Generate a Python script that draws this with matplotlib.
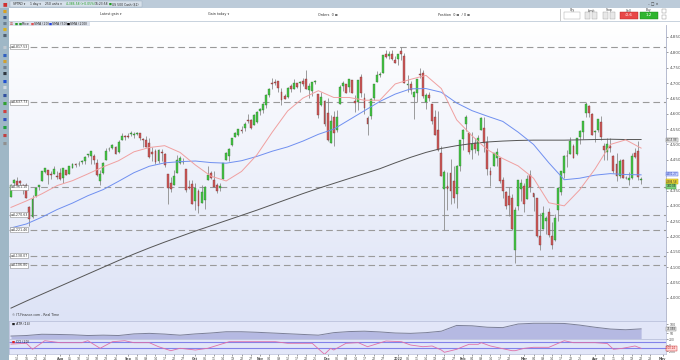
import numpy as np
import pandas as pd
import matplotlib.pyplot as plt
from matplotlib.patches import Rectangle

# ====================================
# DATA (US 500 Cash, daily)
# ====================================
dates = pd.bdate_range('2021-07-09', '2022-04-22')

opens = [
    4330, 4373, 4381, 4380, 4369, 4368, 4296, 4265, 4332, 4361, 4381, 4410, 4416, 4403, 4404, 4396,
    4407, 4392, 4416, 4404, 4424, 4437, 4436, 4442, 4446, 4464, 4462, 4462, 4440, 4382, 4406, 4450, 4484, 4490, 4493, 4474, 4514, 4529,
    4528, 4534, 4532, 4535, 4536, 4518, 4514, 4506, 4474, 4479, 4447, 4477, 4470, 4403, 4374, 4367, 4406, 4438, 4442, 4419, 4362, 4371,
    4317, 4348, 4310, 4320, 4384, 4406, 4385, 4368, 4358, 4387, 4448, 4463, 4497, 4524, 4532, 4547, 4553, 4578, 4580, 4562, 4573,
    4610, 4613, 4630, 4662, 4699, 4702, 4707, 4670, 4659, 4655, 4689, 4679, 4701, 4700, 4708, 4712, 4678, 4675, 4702, 4664, 4628, 4640,
    4602, 4504, 4589, 4548, 4632, 4691, 4696, 4687, 4710, 4642, 4637, 4719, 4652, 4587, 4594, 4650, 4703, 4725, 4733, 4795, 4788, 4794, 4776,
    4778, 4804, 4788, 4693, 4698, 4655, 4669, 4729, 4734, 4638, 4662, 4632, 4588, 4547, 4471, 4356, 4366, 4408, 4380, 4337, 4431,
    4519, 4566, 4536, 4482, 4505, 4480, 4548, 4553, 4507, 4413, 4429, 4455, 4456, 4385, 4345, 4332, 4324, 4155, 4299, 4354,
    4364, 4322, 4401, 4342, 4327, 4203, 4223, 4252, 4280, 4202, 4188, 4288, 4345, 4407, 4462, 4470, 4494, 4470, 4523, 4541, 4603, 4624, 4600,
    4540, 4547, 4572, 4494, 4475, 4494, 4462, 4437, 4397, 4449, 4392, 4385, 4390, 4472, 4479, 4385,
]
highs = [
    4372, 4386, 4393, 4383, 4370, 4376, 4301, 4336, 4359, 4369, 4415, 4422, 4416, 4415, 4430, 4412,
    4422, 4423, 4416, 4429, 4440, 4440, 4445, 4449, 4461, 4468, 4480, 4468, 4454, 4418, 4443, 4489, 4493, 4501, 4495, 4513, 4537, 4531,
    4537, 4545, 4541, 4540, 4536, 4521, 4529, 4520, 4492, 4485, 4486, 4486, 4471, 4403, 4394, 4417, 4465, 4463, 4457, 4419, 4385, 4383,
    4375, 4355, 4369, 4365, 4430, 4412, 4415, 4375, 4373, 4439, 4475, 4488, 4520, 4540, 4551, 4559, 4572, 4598, 4584, 4598, 4608,
    4620, 4636, 4664, 4684, 4718, 4714, 4708, 4685, 4664, 4688, 4697, 4714, 4701, 4708, 4717, 4744, 4699, 4702, 4710, 4664, 4672, 4646,
    4652, 4595, 4608, 4612, 4694, 4705, 4698, 4713, 4710, 4660, 4709, 4731, 4666, 4592, 4651, 4697, 4740, 4736, 4791, 4807, 4804, 4808, 4787,
    4796, 4818, 4797, 4725, 4708, 4673, 4714, 4749, 4744, 4666, 4670, 4632, 4612, 4610, 4495, 4418, 4411, 4453, 4429, 4432, 4516,
    4550, 4595, 4542, 4540, 4521, 4531, 4590, 4588, 4527, 4427, 4473, 4490, 4456, 4395, 4350, 4362, 4339, 4295, 4385, 4388,
    4375, 4401, 4417, 4342, 4327, 4276, 4299, 4268, 4292, 4247, 4272, 4358, 4412, 4465, 4482, 4523, 4501, 4521, 4546, 4576, 4637, 4628, 4603,
    4547, 4583, 4593, 4504, 4521, 4520, 4464, 4471, 4453, 4453, 4396, 4410, 4471, 4489, 4512, 4394,
]
lows = [
    4329, 4365, 4368, 4362, 4340, 4325, 4233, 4262, 4329, 4351, 4381, 4406, 4372, 4387, 4404, 4387,
    4385, 4374, 4400, 4403, 4422, 4425, 4430, 4436, 4437, 4460, 4437, 4436, 4398, 4368, 4405, 4450, 4479, 4486, 4468, 4473, 4514, 4513,
    4522, 4526, 4522, 4530, 4513, 4493, 4493, 4457, 4445, 4436, 4439, 4447, 4427, 4306, 4345, 4367, 4406, 4436, 4437, 4346, 4355, 4307,
    4288, 4278, 4310, 4290, 4384, 4386, 4360, 4342, 4348, 4387, 4448, 4447, 4496, 4524, 4526, 4538, 4545, 4570, 4551, 4562, 4570,
    4595, 4604, 4620, 4655, 4681, 4694, 4670, 4630, 4648, 4651, 4672, 4679, 4684, 4672, 4690, 4682, 4652, 4659, 4698, 4586, 4625, 4560,
    4510, 4504, 4495, 4540, 4632, 4674, 4668, 4670, 4667, 4606, 4611, 4654, 4600, 4531, 4583, 4645, 4703, 4720, 4733, 4780, 4778, 4775, 4765,
    4758, 4774, 4699, 4671, 4663, 4582, 4638, 4718, 4650, 4614, 4640, 4568, 4530, 4480, 4396, 4222, 4287, 4305, 4309, 4292, 4415,
    4483, 4544, 4470, 4451, 4471, 4465, 4548, 4477, 4402, 4365, 4429, 4429, 4374, 4327, 4290, 4267, 4221, 4114, 4287, 4315,
    4280, 4322, 4345, 4284, 4199, 4157, 4223, 4209, 4200, 4161, 4187, 4251, 4335, 4390, 4425, 4470, 4455, 4465, 4501, 4518, 4589, 4589, 4530,
    4507, 4539, 4514, 4450, 4450, 4474, 4408, 4381, 4392, 4392, 4386, 4367, 4388, 4455, 4385, 4372,
]
closes = [
    4369, 4384, 4369, 4374, 4360, 4327, 4258, 4323, 4359, 4368, 4412, 4422, 4401, 4400, 4419, 4395,
    4387, 4423, 4402, 4429, 4436, 4432, 4436, 4447, 4460, 4468, 4479, 4448, 4400, 4405, 4441, 4479, 4486, 4497, 4470, 4509, 4529, 4523,
    4524, 4537, 4535, 4537, 4520, 4514, 4493, 4459, 4468, 4443, 4481, 4473, 4433, 4358, 4354, 4396, 4449, 4455, 4443, 4352, 4359, 4307,
    4357, 4300, 4345, 4363, 4399, 4391, 4361, 4350, 4364, 4438, 4471, 4486, 4520, 4537, 4549, 4544, 4567, 4575, 4552, 4596, 4605,
    4614, 4631, 4660, 4680, 4697, 4701, 4685, 4646, 4649, 4683, 4682, 4700, 4688, 4704, 4697, 4682, 4691, 4702, 4705, 4595, 4655, 4567,
    4513, 4577, 4538, 4591, 4686, 4701, 4668, 4712, 4669, 4634, 4710, 4668, 4620, 4568, 4649, 4697, 4725, 4730, 4791, 4786, 4793, 4778, 4766,
    4796, 4793, 4700, 4696, 4677, 4670, 4713, 4726, 4659, 4662, 4650, 4577, 4532, 4482, 4398, 4410, 4356, 4349, 4326, 4431, 4515,
    4546, 4589, 4477, 4500, 4484, 4521, 4587, 4504, 4419, 4401, 4471, 4475, 4380, 4348, 4300, 4304, 4225, 4288, 4385, 4374,
    4306, 4387, 4363, 4329, 4201, 4171, 4278, 4260, 4204, 4173, 4262, 4358, 4412, 4463, 4461, 4511, 4456, 4520, 4543, 4575, 4632, 4602, 4530,
    4545, 4582, 4525, 4481, 4500, 4488, 4412, 4397, 4446, 4392, 4390, 4391, 4462, 4459, 4393, 4386,
]

# moving averages read weekly (Fridays)
ma_dates = pd.date_range('2021-07-09', '2022-04-22', freq='W-FRI')
sma20 = [4295, 4316, 4339, 4366, 4382, 4404, 4427, 4447, 4476, 4490, 4496, 4474, 4433, 4397,
         4381, 4412, 4466, 4540, 4609, 4651, 4675, 4653, 4653, 4644, 4644, 4697, 4712, 4725,
         4682, 4580, 4528, 4483, 4454, 4430, 4390, 4310, 4300, 4352, 4420, 4500, 4515, 4488]
sma50 = [4228, 4241, 4263, 4288, 4309, 4333, 4353, 4380, 4408, 4429, 4440, 4444, 4446, 4441,
         4439, 4447, 4461, 4478, 4492, 4511, 4533, 4550, 4580, 4610, 4640, 4664, 4681, 4682,
         4670, 4635, 4610, 4592, 4575, 4540, 4500, 4440, 4385, 4390, 4400, 4405, 4402, 4401]
sma200 = [3967, 3990, 4012, 4034, 4056, 4078, 4100, 4122, 4143, 4163, 4182, 4200, 4218, 4235,
          4252, 4269, 4286, 4304, 4322, 4340, 4357, 4373, 4389, 4405, 4421, 4440, 4458, 4474,
          4487, 4496, 4503, 4508, 4511, 4513, 4514, 4514, 4514, 4515, 4516, 4517, 4516, 4516]
atr14 = [33, 36, 43, 42, 40, 36, 38, 36, 45, 48, 44, 38, 45, 50, 57, 57, 54, 50, 46, 42, 38,
         52, 58, 60, 56, 50, 48, 52, 60, 92, 90, 82, 80, 100, 104, 104, 103, 94, 82, 72, 68, 73]

cci_dates = ['2021-07-09', '2021-07-16', '2021-07-20', '2021-07-26', '2021-08-02', '2021-08-11',
             '2021-08-13', '2021-08-19', '2021-08-25', '2021-08-31', '2021-09-03', '2021-09-10',
             '2021-09-15', '2021-09-21', '2021-09-24', '2021-10-01', '2021-10-07', '2021-10-18',
             '2021-10-25', '2021-11-08', '2021-11-12', '2021-11-24', '2021-11-30', '2021-12-02',
             '2021-12-03', '2021-12-06', '2021-12-09', '2021-12-15', '2021-12-20', '2021-12-28',
             '2022-01-04', '2022-01-07', '2022-01-13', '2022-01-18', '2022-01-21', '2022-01-24',
             '2022-01-28', '2022-02-01', '2022-02-03', '2022-02-08', '2022-02-09', '2022-02-14',
             '2022-02-23', '2022-02-24', '2022-03-01', '2022-03-04', '2022-03-11', '2022-03-18',
             '2022-03-23', '2022-04-01', '2022-04-07', '2022-04-11', '2022-04-14', '2022-04-20',
             '2022-04-22']
cci20 = [40, 67, -133, 153, 87, 87, 153, -100, 120, 153, 87, 87, -47, -180, -100, -157, -100,
         120, 120, 120, 67, 67, -300, -100, -157, -100, 67, 87, -47, 143, 120, 10, -47, -23,
         -157, -233, -133, -47, 33, 33, 87, -23, -180, -180, -100, -67, -67, 153, 87, 87, 60,
         -133, -100, -23, -100]

levels = [4817.53, 4637.73, 4361.10, 4270.63, 4221.46, 4138.07, 4106.80]
price_ticks = list(range(4000, 4851, 50))
last_price = 4386.58

# ====================================
# FIGURE
# ====================================
W, H = 680, 360
fig = plt.figure(figsize=(W / 100, H / 100), dpi=100)
fig.patch.set_facecolor('white')

def px_axes(x0, y0, x1, y1, **kw):
    return fig.add_axes([x0 / W, 1 - y1 / H, (x1 - x0) / W, (y1 - y0) / H], **kw)

FS = 3.0
TS = 2.3
idx = np.arange(len(dates))
ma_x = dates.get_indexer(ma_dates)
cci_x = dates.get_indexer(pd.to_datetime(cci_dates))
xlim = (-0.65, 213.1)

o, h, l, c = map(np.array, (opens, highs, lows, closes))

# ---- price panel ----
ax = px_axes(9, 25, 666, 321)
ax.set_xlim(*xlim)
ax.set_ylim(3925, 4889)
grad = np.linspace(0, 1, 256).reshape(-1, 1)
ax.imshow(grad, extent=[*xlim, 3925, 4889], aspect='auto', origin='upper',
          cmap=plt.matplotlib.colors.LinearSegmentedColormap.from_list('bg', ['#ffffff', '#dde3f6']),
          zorder=0)

for v in levels:
    ax.axhline(v, color='#9a9a9a', lw=0.8, ls=(0, (6, 3.5)), zorder=1)

up = c >= o
ax.vlines(idx, l, h, color='#8c8c8c', lw=0.6, zorder=2)
ax.bar(idx[up], (c - o)[up], bottom=o[up], width=0.62, color='#44c544',
       edgecolor='#2f6f2f', lw=0.25, zorder=3)
ax.bar(idx[~up], (c - o)[~up], bottom=o[~up], width=0.62, color='#cf5a5a',
       edgecolor='#6f2f2f', lw=0.25, zorder=3)

ax.plot(ma_x, sma200, color='#555555', lw=0.7, zorder=4)
ax.plot(ma_x, sma50, color='#6f8ff0', lw=0.7, zorder=4)
ax.plot(ma_x, sma20, color='#f0a0a0', lw=0.7, zorder=4)

ax.yaxis.tick_right()
ax.set_yticks(price_ticks)
# the 4,400 label sits under the SMA(50) value tag, as on the platform
ax.set_yticklabels(['' if v == 4400 else f'{v:,}' for v in price_ticks], fontsize=FS,
                   color='#444444')
ax.tick_params(axis='y', length=1.5, width=0.4, pad=1, colors='#555555')
ax.set_xticks([])
for s in ['top', 'left', 'bottom']:
    ax.spines[s].set_visible(False)
ax.spines['right'].set_color('#aab0c8')
ax.spines['right'].set_linewidth(0.6)

for v in levels:
    ax.text(0.002, v, f'\u2261{v:,.2f}', transform=ax.get_yaxis_transform(), fontsize=TS,
            va='center', ha='left', color='#333333',
            bbox=dict(boxstyle='square,pad=0.15', fc='white', ec='#8a8a8a', lw=0.4), zorder=6)

def tag(axis, v, text, fc, ec, tc='#222222'):
    axis.text(1.0005, v, text, transform=axis.get_yaxis_transform(), fontsize=1.9, va='center',
              ha='left', color=tc, clip_on=False,
              bbox=dict(boxstyle='square,pad=0.1', fc=fc, ec=ec, lw=0.35), zorder=7)

tag(ax, sma200[-1] - 1, '4,515.88', '#f2f2f2', '#777777')
tag(ax, sma50[-1] + 2, '4,401.27', '#c9d3ff', '#5a73e0', '#2a3fb0')
tag(ax, last_price - 8, f'{last_price:,.2f}', '#f4dc3c', '#b89b00')
tag(ax, last_price - 23, '75D:05', '#7fd07f', '#3a9a3a')

ax.text(0.004, 0.012, '\u00a9 IT-Finance.com - Real Time', transform=ax.transAxes, fontsize=TS,
        color='#333333', va='bottom')

# ---- ATR panel ----
ax2 = px_axes(9, 321, 666, 339)
ax2.set_xlim(*xlim)
ax2.set_ylim(16.7, 116.7)
ax2.set_facecolor('#e2e6f8')
ax2.fill_between(ma_x, atr14, 16.7, color='#b5b9e2', lw=0)
ax2.plot(ma_x, atr14, color='#7b7f98', lw=0.7)
ax2.yaxis.tick_right()
ax2.set_yticks([50, 100])
ax2.set_yticklabels(['50', '100'], fontsize=TS, color='#444444')
ax2.tick_params(axis='y', length=1.5, width=0.4, pad=1, colors='#555555')
ax2.set_xticks([])
for s in ax2.spines.values():
    s.set_color('#b4bad6')
    s.set_linewidth(0.5)
tag(ax2, atr14[-1], '73.058', '#e6e6e6', '#8a8a8a')
ax2.text(0.004, 0.93, '\u25a0 ATR (14)', transform=ax2.transAxes, fontsize=TS, va='top',
         color='#222222')

# ---- CCI panel ----
ax3 = px_axes(9, 339, 666, 354)
ax3.set_xlim(*xlim)
ax3.set_ylim(-290, 210)
ax3.set_facecolor('#e2e6f8')
ax3.axhline(100, color='#8282ea', lw=0.8)
ax3.axhline(-100, color='#8282ea', lw=0.8)
ax3.plot(cci_x, cci20, color='#e070a8', lw=0.6)
ax3.yaxis.tick_right()
ax3.set_yticks([-200, 0, 200])
ax3.set_yticklabels(['-200', '0', '200'], fontsize=2.2, color='#444444')
ax3.tick_params(axis='y', length=1.2, width=0.4, pad=1, colors='#555555')
for s in ax3.spines.values():
    s.set_color('#b4bad6')
    s.set_linewidth(0.5)
tag(ax3, cci20[-1], '-100.24', '#ffd6d6', '#d04040', '#c02020')
ax3.text(0.004, 0.95, '\u25a0', transform=ax3.transAxes, fontsize=TS, va='top', color='#e02020')
ax3.text(0.011, 0.95, 'CCI (20)', transform=ax3.transAxes, fontsize=TS, va='top', color='#222222')

# date labels: month name at the first day, then a day number every few sessions
month_start = [i for i in range(len(dates)) if i == 0 or dates[i].month != dates[i - 1].month]
tick_pos, tick_lab, tick_bold = [], [], []
for k, m0 in enumerate(month_start):
    m1 = month_start[k + 1] if k + 1 < len(month_start) else len(dates) + 3
    if k > 0:
        tick_pos.append(m0)
        tick_lab.append('2022' if dates[m0].month == 1 else dates[m0].strftime('%b'))
        tick_bold.append(True)
    start = m0 + 3 if k > 0 else m0 + 2
    for i in range(start, m1 - 2, 3):
        if i < len(dates):
            tick_pos.append(i)
            tick_lab.append(dates[i].strftime('%d'))
            tick_bold.append(False)
for extra, lab in [(208, '28'), (212, 'May')]:
    tick_pos.append(extra)
    tick_lab.append(lab)
    tick_bold.append(lab == 'May')
ax3.set_xticks(tick_pos)
ax3.set_xticklabels(tick_lab, fontsize=2.3, color='#333333')
for t, b in zip(ax3.get_xticklabels(), tick_bold):
    if b:
        t.set_fontweight('bold')
ax3.tick_params(axis='x', length=1.2, width=0.4, pad=0.8, colors='#555555')

# ====================================
# WINDOW CHROME
# ====================================
def px_rect(x0, y0, x1, y1, **kw):
    fig.add_artist(Rectangle((x0 / W, 1 - y1 / H), (x1 - x0) / W, (y1 - y0) / H,
                             transform=fig.transFigure, **kw))

def px_text(x, y, s, **kw):
    fig.text(x / W, 1 - y / H, s, **kw)

# title bar
px_rect(0, 0, 680, 8, fc='#bccbd9', ec='none')
px_rect(0, 7.5, 680, 8, fc='#8fa6bb', ec='none')
px_rect(10, 1, 142, 7, fc='#d6e0ea', ec='#9aacbd', lw=0.3)
px_text(3, 4, '\u25a0', fontsize=3.5, color='#d03030', va='center')
for xt, s, col in [(13, 'SPTRD \u25be', '#222222'), (30, '1 day \u25be', '#222222'),
                   (45, '250 units \u25be', '#222222'), (66, f'{last_price:,.2f} (+0.05%)', '#1a9a1a'),
                   (95, '16:23:58', '#222222'), (112, 'US 500 Cash ($1)', '#222222')]:
    px_text(xt, 4, s, fontsize=2.2, va='center', color=col)
px_text(109, 4, '\u25a0', fontsize=2.2, va='center', color='#1a9a1a')
px_text(648, 4, '\u2013 \u25a1 \u00d7', fontsize=2.6, va='center', color='#333333')

# toolbar
px_rect(9, 8, 680, 21, fc='white', ec='none')
px_rect(9, 21, 680, 22, fc='#c9d3de', ec='none')
px_text(100, 14.5, 'Latest gain \u25be', fontsize=2.4, va='center', color='#333333')
px_text(208, 14.5, 'Gain today \u25be', fontsize=2.4, va='center', color='#333333')
px_text(318, 14.5, 'Orders  0 \u229e', fontsize=2.4, va='center', color='#333333')
px_text(438, 14.5, 'Position  0 \u229e  / 0 \u229e', fontsize=2.4, va='center', color='#333333')
px_rect(560, 9, 561, 21, fc='#cccccc', ec='none')
px_text(572, 10.5, 'Qty', fontsize=2.2, va='center', ha='center', color='#333333')
px_rect(564, 12.5, 580, 18.5, fc='white', ec='#a0a0a0', lw=0.3)
for xb, lab in [(585, 'Limit'), (603, 'Stop')]:
    px_text(xb + 6, 10.5, lab, fontsize=2.2, va='center', ha='center', color='#333333')
    px_rect(xb, 12.5, xb + 5, 18.5, fc='#e8e8e8', ec='#a0a0a0', lw=0.3)
    px_rect(xb + 7, 12.5, xb + 12, 18.5, fc='#e8e8e8', ec='#a0a0a0', lw=0.3)
px_text(629, 10.5, 'Sell', fontsize=2.2, va='center', ha='center', color='#333333')
px_rect(620, 12, 638, 19, fc='#e84848', ec='#b02020', lw=0.3)
px_text(629, 15.5, '-0.6', fontsize=3.0, va='center', ha='center', color='white')
px_text(649, 10.5, 'Buy', fontsize=2.2, va='center', ha='center', color='#333333')
px_rect(640, 12, 658, 19, fc='#2fb52f', ec='#1a801a', lw=0.3)
px_text(649, 15.5, '1.2', fontsize=3.0, va='center', ha='center', color='white')
px_rect(662, 9, 666, 13, fc='white', ec='#888888', lw=0.3)
px_rect(662, 15, 666, 19, fc='white', ec='#888888', lw=0.3)

# legend row
px_rect(9, 22, 90, 26, fc='#dde2ec', ec='none')
px_text(10, 24, '\u2612', fontsize=TS, va='center', color='#c03030')
px_text(15, 24, '\u25a0', fontsize=TS, va='center', color='#2a9a2a')
for xt, s, col in [(19, 'Price', '#2a9a2a'), (31, 'SMA (20)', '#e05050'),
                   (49, 'SMA (50)', '#2040e0'), (67, 'SMA (200)', '#000000')]:
    px_text(xt, 24, '\u25a0', fontsize=TS, va='center', color=col)
    px_text(xt + 3, 24, s, fontsize=TS, va='center', color='#222222')

# left tool strip
px_rect(0, 8, 9, 360, fc='#9fb7c6', ec='none')
icon_y = [12, 18, 24, 30, 36, 48, 56, 62, 68, 74, 82, 88, 96, 104, 112, 120, 128, 136, 144]
icon_c = ['#d8a020', '#3a5a8a', '#6a7f90', '#d8b020', '#506070', '#c0c8d0', '#3060c0', '#d0a030',
          '#708090', '#303840', '#2050d0', '#d0d8e0', '#3050a0', '#30a030', '#d04040', '#3050c0',
          '#20a040', '#c04040', '#909090']
for yy, cc in zip(icon_y, icon_c):
    px_text(4.5, yy, '\u25a0', fontsize=3, ha='center', va='center', color=cc)

fig.savefig('out.png', dpi=100)
